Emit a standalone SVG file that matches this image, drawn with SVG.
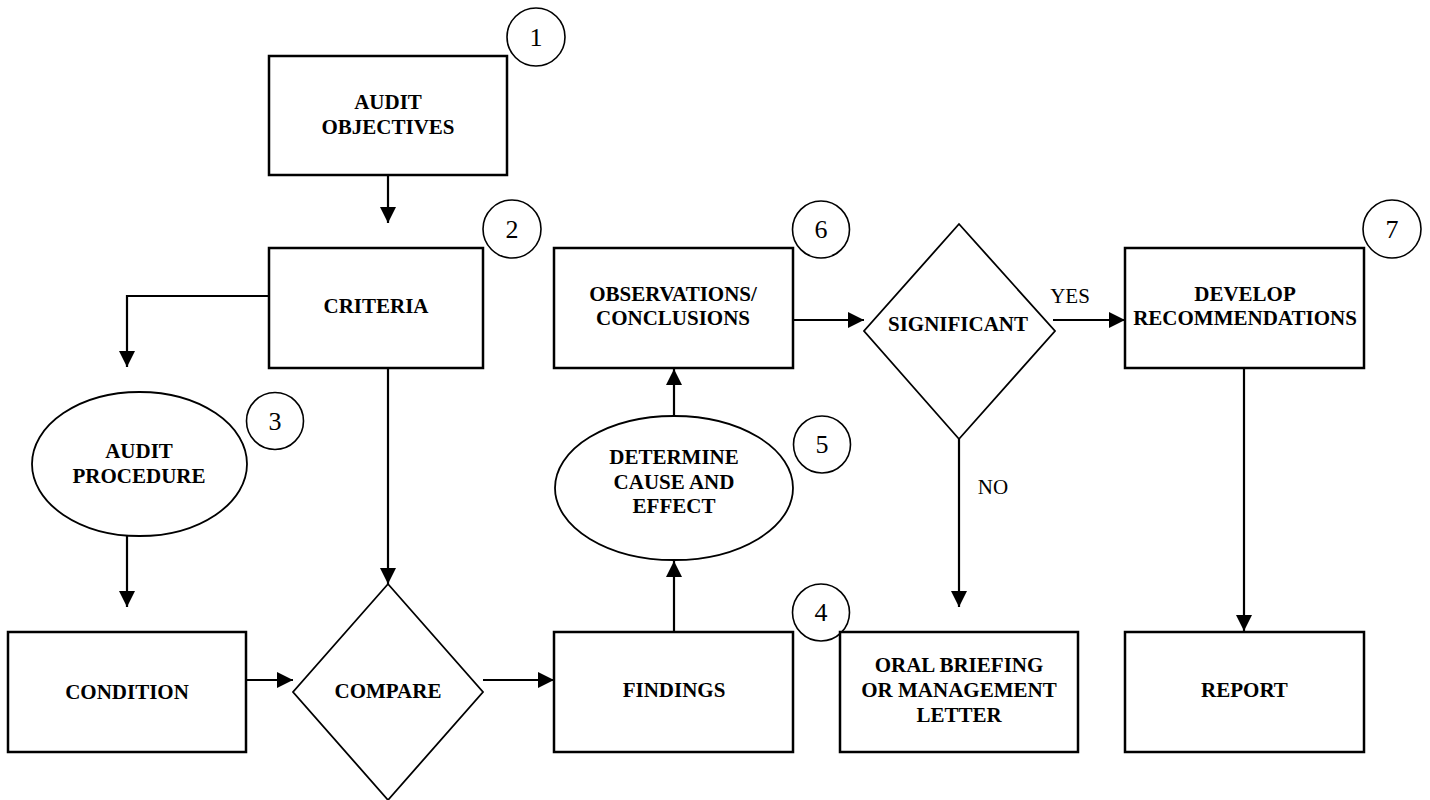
<svg xmlns="http://www.w3.org/2000/svg" width="1430" height="800" viewBox="0 0 1430 800">
<style>
.box{fill:#fff;stroke:#000;stroke-width:2.5}
.shape{fill:#fff;stroke:#000;stroke-width:1.8}
.num{fill:#fff;stroke:#000;stroke-width:1.6}
.t{font-family:"Liberation Serif","Times New Roman",serif;font-weight:bold;font-size:21px;text-anchor:middle;fill:#000}
.l{font-family:"Liberation Serif","Times New Roman",serif;font-size:21px;text-anchor:middle;fill:#000}
.n{font-family:"Liberation Serif","Times New Roman",serif;font-size:26px;text-anchor:middle;fill:#000}
.c{fill:none;stroke:#000;stroke-width:2.2}
</style>
<defs>
<marker id="arr" markerUnits="userSpaceOnUse" markerWidth="16" markerHeight="16" refX="16" refY="8" orient="auto">
<path d="M0,0 L16,8 L0,16 z" fill="#000"/>
</marker>
</defs>
<g id="connectors">
<path class="c" d="M388,175 V223" marker-end="url(#arr)"/>
<path class="c" d="M269,296 H127 V367" marker-end="url(#arr)"/>
<path class="c" d="M388,368 V584" marker-end="url(#arr)"/>
<path class="c" d="M127,536 V607" marker-end="url(#arr)"/>
<path class="c" d="M246,680 H293" marker-end="url(#arr)"/>
<path class="c" d="M483,680 H554" marker-end="url(#arr)"/>
<path class="c" d="M674,632 V561" marker-end="url(#arr)"/>
<path class="c" d="M674,416 V369" marker-end="url(#arr)"/>
<path class="c" d="M793,320 H864" marker-end="url(#arr)"/>
<path class="c" d="M1053,320 H1125" marker-end="url(#arr)"/>
<path class="c" d="M959,439 V607" marker-end="url(#arr)"/>
<path class="c" d="M1244,368 V631" marker-end="url(#arr)"/>
<text class="l" x="1070" y="303">YES</text>
<text class="l" x="993" y="494">NO</text>
</g>
<g id="n1">
<rect class="box" x="269" y="56" width="238" height="119"/>
<text class="t" x="388" y="109">AUDIT</text>
<text class="t" x="388" y="134">OBJECTIVES</text>
<circle class="num" cx="536" cy="37" r="29"/>
<text class="n" x="536" y="46">1</text>
</g>
<g id="n2">
<rect class="box" x="269" y="248" width="214" height="120"/>
<text class="t" x="376" y="313">CRITERIA</text>
<circle class="num" cx="512" cy="229" r="29"/>
<text class="n" x="512" y="238">2</text>
</g>
<g id="n3">
<ellipse class="shape" cx="139.5" cy="464" rx="107.5" ry="72"/>
<text class="t" x="139" y="458">AUDIT</text>
<text class="t" x="139" y="483">PROCEDURE</text>
<circle class="num" cx="275" cy="421" r="28.5"/>
<text class="n" x="275" y="430">3</text>
</g>
<g id="condition">
<rect class="box" x="8" y="632" width="238" height="120"/>
<text class="t" x="127" y="699">CONDITION</text>
</g>
<g id="compare">
<polygon class="shape" points="388,584 483,692 388,800 293,692"/>
<text class="t" x="388" y="698">COMPARE</text>
</g>
<g id="n4">
<rect class="box" x="554" y="632" width="239" height="120"/>
<text class="t" x="674" y="697">FINDINGS</text>
<circle class="num" cx="821" cy="612.5" r="28.5"/>
<text class="n" x="821" y="621">4</text>
</g>
<g id="n5">
<ellipse class="shape" cx="674" cy="488" rx="119" ry="72"/>
<text class="t" x="674" y="464">DETERMINE</text>
<text class="t" x="674" y="489">CAUSE AND</text>
<text class="t" x="674" y="513">EFFECT</text>
<circle class="num" cx="822" cy="444.5" r="28.5"/>
<text class="n" x="822" y="453">5</text>
</g>
<g id="n6">
<rect class="box" x="554" y="248" width="239" height="120"/>
<text class="t" x="673" y="301">OBSERVATIONS/</text>
<text class="t" x="673" y="325">CONCLUSIONS</text>
<circle class="num" cx="821" cy="229.5" r="28.5"/>
<text class="n" x="821" y="238">6</text>
</g>
<g id="significant">
<polygon class="shape" points="959,224 1055,331 959,439 864,331"/>
<text class="t" x="958" y="331">SIGNIFICANT</text>
</g>
<g id="n7">
<rect class="box" x="1125" y="248" width="239" height="120"/>
<text class="t" x="1245" y="301">DEVELOP</text>
<text class="t" x="1245" y="325">RECOMMENDATIONS</text>
<circle class="num" cx="1392" cy="229" r="29"/>
<text class="n" x="1392" y="238">7</text>
</g>
<g id="oral">
<rect class="box" x="840" y="632" width="238" height="120"/>
<text class="t" x="959" y="672">ORAL BRIEFING</text>
<text class="t" x="959" y="697">OR MANAGEMENT</text>
<text class="t" x="959" y="722">LETTER</text>
</g>
<g id="report">
<rect class="box" x="1125" y="632" width="239" height="120"/>
<text class="t" x="1244.5" y="697">REPORT</text>
</g>
</svg>
